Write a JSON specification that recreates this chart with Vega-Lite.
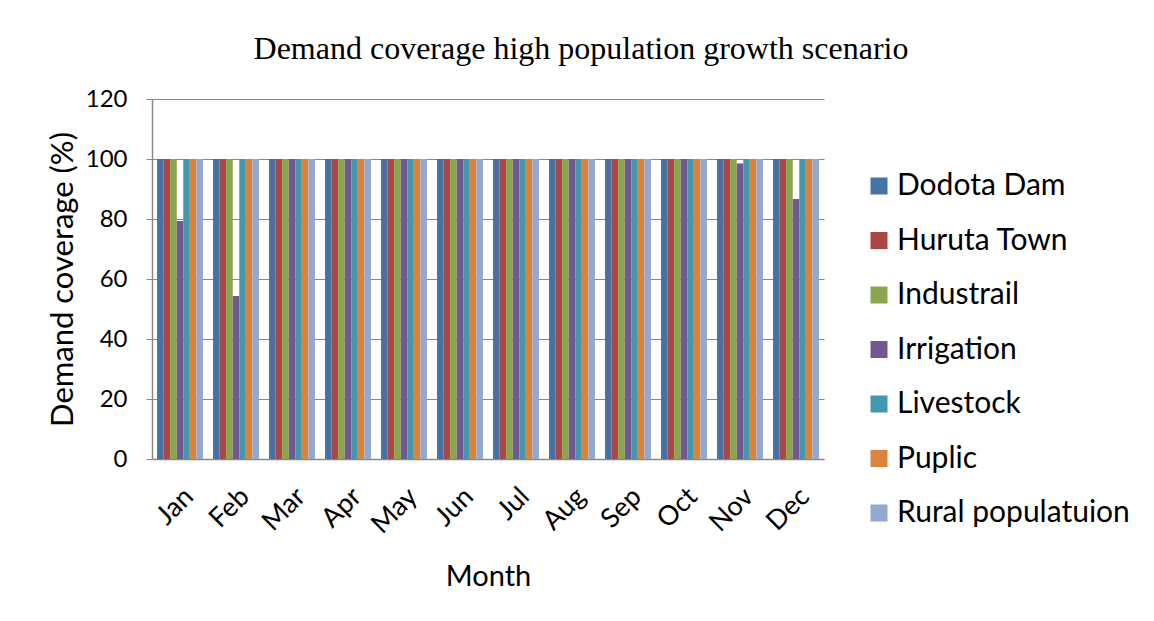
{
  "$schema": "https://vega.github.io/schema/vega-lite/v6.json",
  "width": 672,
  "height": 360,
  "autosize": {"type": "none"},
  "padding": {"left": 152, "top": 99, "right": 330, "bottom": 162},
  "background": "white",
  "title": {
    "text": "Demand coverage high population growth scenario",
    "font": "Liberation Serif",
    "fontSize": 32,
    "fontWeight": "normal",
    "color": "black",
    "anchor": "middle",
    "frame": "group",
    "dx": 93,
    "offset": 21
  },
  "datasets": {
    "d": [
      {"month": "Jan", "series": "Dodota Dam", "value": 100},
      {"month": "Jan", "series": "Huruta Town", "value": 100},
      {"month": "Jan", "series": "Industrail", "value": 100},
      {"month": "Jan", "series": "Irrigation", "value": 79.3},
      {"month": "Jan", "series": "Livestock", "value": 100},
      {"month": "Jan", "series": "Puplic", "value": 100},
      {"month": "Jan", "series": "Rural populatuion", "value": 100},
      {"month": "Feb", "series": "Dodota Dam", "value": 100},
      {"month": "Feb", "series": "Huruta Town", "value": 100},
      {"month": "Feb", "series": "Industrail", "value": 100},
      {"month": "Feb", "series": "Irrigation", "value": 54.3},
      {"month": "Feb", "series": "Livestock", "value": 100},
      {"month": "Feb", "series": "Puplic", "value": 100},
      {"month": "Feb", "series": "Rural populatuion", "value": 100},
      {"month": "Mar", "series": "Dodota Dam", "value": 100},
      {"month": "Mar", "series": "Huruta Town", "value": 100},
      {"month": "Mar", "series": "Industrail", "value": 100},
      {"month": "Mar", "series": "Irrigation", "value": 100},
      {"month": "Mar", "series": "Livestock", "value": 100},
      {"month": "Mar", "series": "Puplic", "value": 100},
      {"month": "Mar", "series": "Rural populatuion", "value": 100},
      {"month": "Apr", "series": "Dodota Dam", "value": 100},
      {"month": "Apr", "series": "Huruta Town", "value": 100},
      {"month": "Apr", "series": "Industrail", "value": 100},
      {"month": "Apr", "series": "Irrigation", "value": 100},
      {"month": "Apr", "series": "Livestock", "value": 100},
      {"month": "Apr", "series": "Puplic", "value": 100},
      {"month": "Apr", "series": "Rural populatuion", "value": 100},
      {"month": "May", "series": "Dodota Dam", "value": 100},
      {"month": "May", "series": "Huruta Town", "value": 100},
      {"month": "May", "series": "Industrail", "value": 100},
      {"month": "May", "series": "Irrigation", "value": 100},
      {"month": "May", "series": "Livestock", "value": 100},
      {"month": "May", "series": "Puplic", "value": 100},
      {"month": "May", "series": "Rural populatuion", "value": 100},
      {"month": "Jun", "series": "Dodota Dam", "value": 100},
      {"month": "Jun", "series": "Huruta Town", "value": 100},
      {"month": "Jun", "series": "Industrail", "value": 100},
      {"month": "Jun", "series": "Irrigation", "value": 100},
      {"month": "Jun", "series": "Livestock", "value": 100},
      {"month": "Jun", "series": "Puplic", "value": 100},
      {"month": "Jun", "series": "Rural populatuion", "value": 100},
      {"month": "Jul", "series": "Dodota Dam", "value": 100},
      {"month": "Jul", "series": "Huruta Town", "value": 100},
      {"month": "Jul", "series": "Industrail", "value": 100},
      {"month": "Jul", "series": "Irrigation", "value": 100},
      {"month": "Jul", "series": "Livestock", "value": 100},
      {"month": "Jul", "series": "Puplic", "value": 100},
      {"month": "Jul", "series": "Rural populatuion", "value": 100},
      {"month": "Aug", "series": "Dodota Dam", "value": 100},
      {"month": "Aug", "series": "Huruta Town", "value": 100},
      {"month": "Aug", "series": "Industrail", "value": 100},
      {"month": "Aug", "series": "Irrigation", "value": 100},
      {"month": "Aug", "series": "Livestock", "value": 100},
      {"month": "Aug", "series": "Puplic", "value": 100},
      {"month": "Aug", "series": "Rural populatuion", "value": 100},
      {"month": "Sep", "series": "Dodota Dam", "value": 100},
      {"month": "Sep", "series": "Huruta Town", "value": 100},
      {"month": "Sep", "series": "Industrail", "value": 100},
      {"month": "Sep", "series": "Irrigation", "value": 100},
      {"month": "Sep", "series": "Livestock", "value": 100},
      {"month": "Sep", "series": "Puplic", "value": 100},
      {"month": "Sep", "series": "Rural populatuion", "value": 100},
      {"month": "Oct", "series": "Dodota Dam", "value": 100},
      {"month": "Oct", "series": "Huruta Town", "value": 100},
      {"month": "Oct", "series": "Industrail", "value": 100},
      {"month": "Oct", "series": "Irrigation", "value": 100},
      {"month": "Oct", "series": "Livestock", "value": 100},
      {"month": "Oct", "series": "Puplic", "value": 100},
      {"month": "Oct", "series": "Rural populatuion", "value": 100},
      {"month": "Nov", "series": "Dodota Dam", "value": 100},
      {"month": "Nov", "series": "Huruta Town", "value": 100},
      {"month": "Nov", "series": "Industrail", "value": 100},
      {"month": "Nov", "series": "Irrigation", "value": 98.5},
      {"month": "Nov", "series": "Livestock", "value": 100},
      {"month": "Nov", "series": "Puplic", "value": 100},
      {"month": "Nov", "series": "Rural populatuion", "value": 100},
      {"month": "Dec", "series": "Dodota Dam", "value": 100},
      {"month": "Dec", "series": "Huruta Town", "value": 100},
      {"month": "Dec", "series": "Industrail", "value": 100},
      {"month": "Dec", "series": "Irrigation", "value": 86.7},
      {"month": "Dec", "series": "Livestock", "value": 100},
      {"month": "Dec", "series": "Puplic", "value": 100},
      {"month": "Dec", "series": "Rural populatuion", "value": 100}
    ]
  },
  "data": {"name": "d"},
  "mark": {"type": "bar"},
  "encoding": {
    "x": {
      "field": "month",
      "type": "nominal",
      "sort": ["Jan","Feb","Mar","Apr","May","Jun","Jul","Aug","Sep","Oct","Nov","Dec"],
      "scale": {"paddingInner": 0.18, "paddingOuter": 0.09},
      "axis": {
        "title": "Month",
        "titleFont": "Lato",
        "titleFontSize": 29,
        "titleFontWeight": "normal",
        "titleColor": "black",
        "titlePadding": 25,
        "labelFont": "Lato",
        "labelFontSize": 27,
        "labelColor": "black",
        "labelAngle": -45,
        "labelPadding": 24,
        "labelDx": -20,
        "labelDy": -9,
        "domainColor": "#888888",
        "domainWidth": 1.5,
        "ticks": false,
        "grid": false
      }
    },
    "xOffset": {
      "field": "series",
      "type": "nominal",
      "scale": {"paddingInner": 0, "paddingOuter": 0}
    },
    "y": {
      "field": "value",
      "type": "quantitative",
      "scale": {"domain": [0, 120]},
      "axis": {
        "title": "Demand coverage (%)",
        "titleFont": "Lato",
        "titleFontSize": 31,
        "titleFontWeight": "normal",
        "titleColor": "black",
        "titlePadding": 6,
        "labelFont": "Lato",
        "labelFontSize": 24,
        "labelColor": "black",
        "labelPadding": 19,
        "values": [0, 20, 40, 60, 80, 100, 120],
        "domainColor": "#888888",
        "domainWidth": 1.5,
        "tickColor": "#888888",
        "tickSize": 6,
        "gridColor": "#888888",
        "gridWidth": 1.2
      }
    },
    "color": {
      "field": "series",
      "type": "nominal",
      "scale": {
        "domain": ["Dodota Dam","Huruta Town","Industrail","Irrigation","Livestock","Puplic","Rural populatuion"],
        "range": ["#4572A7","#AA4643","#89A54E","#71588F","#4198AF","#DB843D","#93A9CF"]
      },
      "legend": {
        "title": null,
        "orient": "none",
        "legendX": 712,
        "legendY": 72,
        "labelFont": "Lato",
        "labelFontSize": 30,
        "labelColor": "black",
        "labelLimit": 400,
        "symbolType": "square",
        "symbolSize": 289,
        "symbolStrokeWidth": 0,
        "rowPadding": 24.5,
        "labelOffset": 3
      }
    }
  },
  "config": {"view": {"stroke": null}}
}
